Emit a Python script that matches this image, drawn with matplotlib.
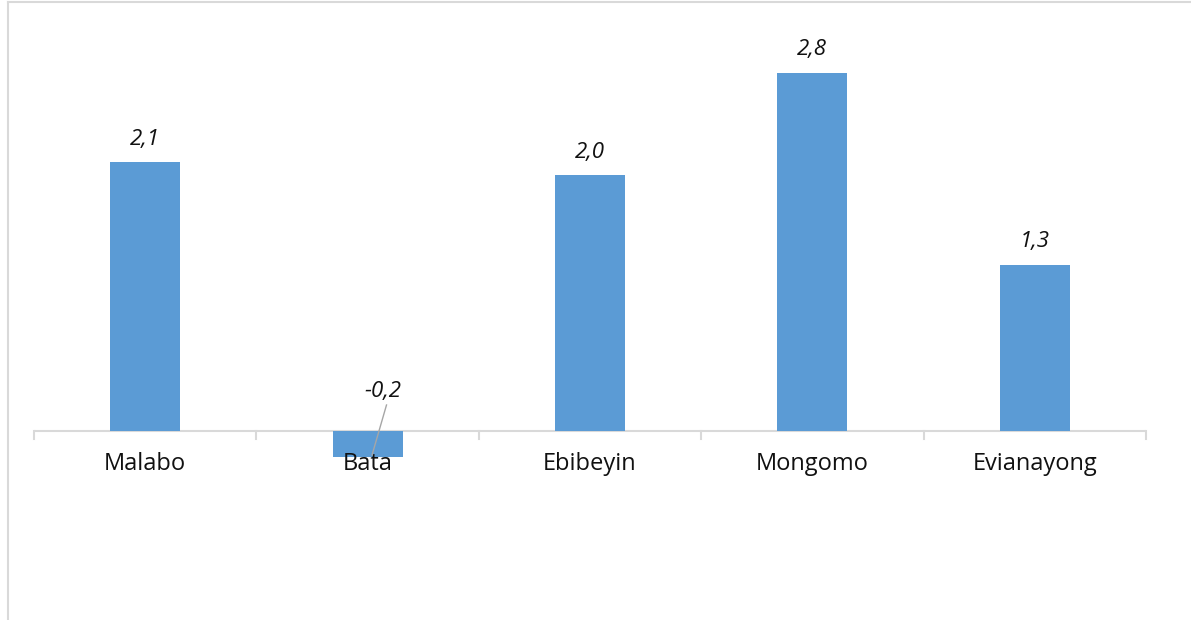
import matplotlib.pyplot as plt
import matplotlib.lines as mlines

cities = ['Malabo', 'Bata', 'Ebibeyin', 'Mongomo', 'Evianayong']
values = [2.1, -0.2, 2.0, 2.8, 1.3]
value_labels = ['2,1', '-0,2', '2,0', '2,8', '1,3']

W, H = 1191, 620
fig = plt.figure(figsize=(W / 100, H / 100), dpi=100)

# outer chart frame (only left and top visible)
fig.add_artist(mlines.Line2D([8 / W, 8 / W], [0, 1 - 2 / H], color='#d9d9d9', lw=1.5))
fig.add_artist(mlines.Line2D([8 / W, 1], [1 - 2 / H, 1 - 2 / H], color='#d9d9d9', lw=1.5))

# axes placement in pixels: x 34..1146, y zero at 431
x0, x1 = 34, 1146
top_px, bot_px = 30, 600
ax = fig.add_axes([x0 / W, 1 - bot_px / H, (x1 - x0) / W, (bot_px - top_px) / H])
ppu = 127.9
ax.set_xlim(-0.5, len(cities) - 0.5)
ax.set_ylim(-(bot_px - 431) / ppu, (431 - top_px) / ppu)

ax.bar(range(len(cities)), values, width=0.315, color='#5b9bd5', zorder=2)
ax.axhline(0, color='#d9d9d9', lw=1.5, zorder=1)
for s in ax.spines.values():
    s.set_visible(False)
ax.set_yticks([])
ax.set_xticks([])

# category boundary tick marks
for b in range(len(cities) + 1):
    ax.plot([b - 0.5, b - 0.5], [0, -8 / ppu], color='#d9d9d9', lw=1.5, clip_on=False)

for i, c in enumerate(cities):
    ax.text(i, -33 / ppu, c, ha='center', va='center', fontsize=17,
            family='Open Sans', color='#111111')

for i, (v, lab) in enumerate(zip(values, value_labels)):
    if v >= 0:
        ax.text(i, v + 23 / ppu, lab, ha='center', va='center', fontsize=16,
                style='italic', family='Open Sans', color='#111111')
    else:
        ax.text(1.07, 39 / ppu, lab, ha='center', va='center', fontsize=16,
                style='italic', family='Open Sans', color='#111111')
        ax.plot([1.085, 1.02], [26 / ppu, -24 / ppu], color='#a6a6a6', lw=1, zorder=3)

fig.savefig('out.png', dpi=100)
